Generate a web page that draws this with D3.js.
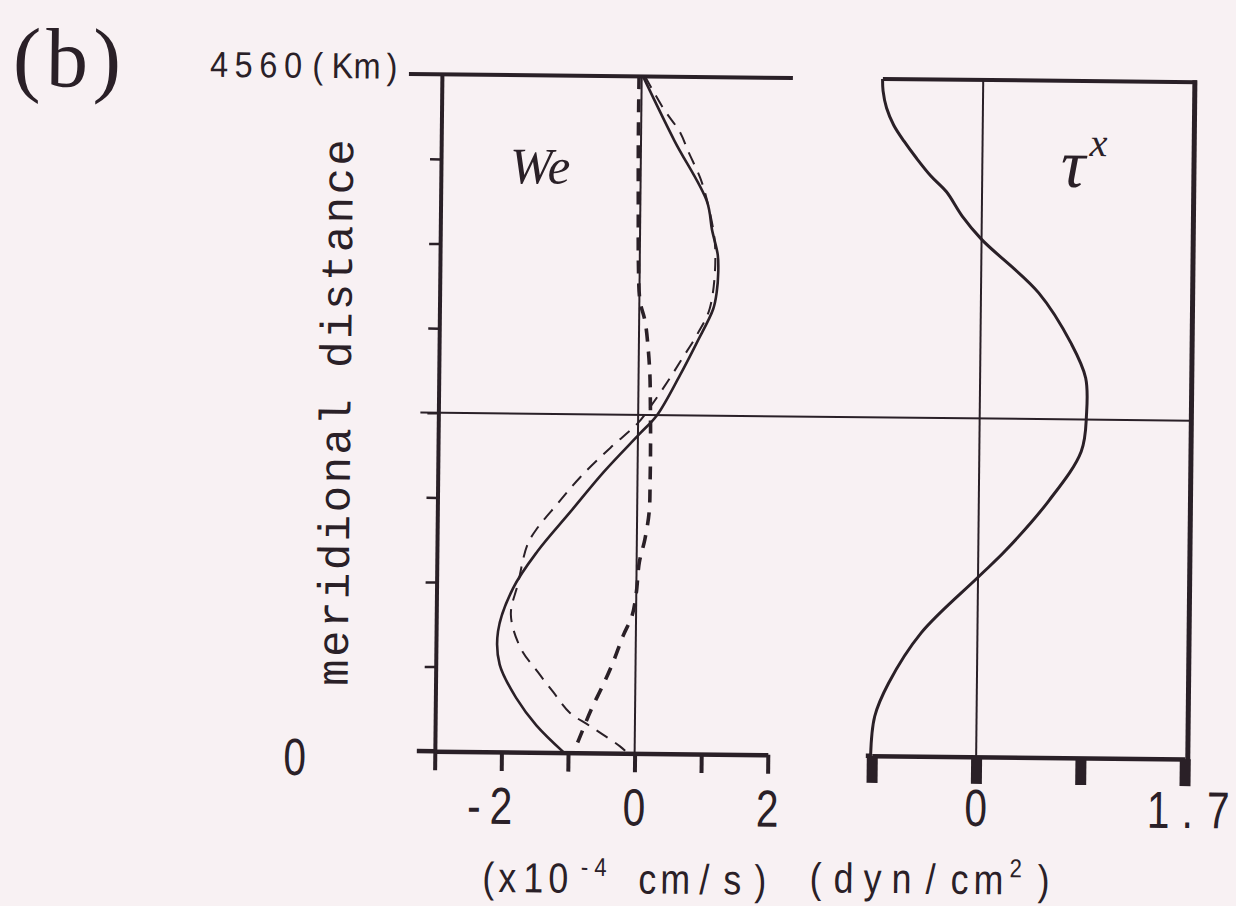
<!DOCTYPE html>
<html>
<head>
<meta charset="utf-8">
<script src="https://cdn.jsdelivr.net/npm/d3@7"></script>
<style>
  html, body { margin: 0; padding: 0; background: #f8f1f3; }
  svg { display: block; }
</style>
</head>
<body>
<svg id="chart" width="1236" height="906"></svg>
<script>
// Meridional profiles over a 4560 km basin.
// Ekman pumping velocity We (x10^-4 cm/s), three cases:
const weSolidKm  = [4560, 4130, 3721, 3531, 3363, 3250, 3112, 2998, 2771, 2549, 2277, 2150, 1892, 1623, 1354, 1104, 812, 588, 360, 182, 0];
const weSolid    = [0.02, 0.50, 1.00, 1.08, 1.17, 1.18, 1.16, 1.11, 0.87, 0.62, 0.28, 0.02, -0.51, -1.00, -1.49, -1.85, -2.07, -2.04, -1.78, -1.48, -1.06];

const weThinKm   = [4560, 4346, 4182, 4058, 3885, 3730, 3411, 3005, 2823, 2668, 2508, 2334, 2226, 2057, 1856, 1674, 1514, 1400, 1131, 926, 702, 543, 406, 269, 182, 46, 0];
const weThin     = [0.05, 0.33, 0.59, 0.71, 0.89, 1.00, 1.13, 1.06, 0.87, 0.66, 0.44, 0.18, 0.00, -0.41, -0.86, -1.20, -1.49, -1.64, -1.78, -1.88, -1.73, -1.47, -1.23, -0.98, -0.68, -0.22, -0.10];

const weThickKm  = [4560, 4104, 3648, 3300, 3046, 2909, 2727, 2549, 2389, 2118, 1847, 1624, 1441, 1286, 1082, 927, 792, 609, 453, 291, 88, 0];
const weThick    = [-0.04, -0.04, -0.03, -0.02, 0.01, 0.09, 0.14, 0.17, 0.18, 0.19, 0.19, 0.18, 0.12, 0.04, 0.00, -0.06, -0.19, -0.34, -0.49, -0.66, -0.84, -0.92];

// Zonal wind stress tau^x (dyn/cm^2)
const tauKm      = [4560, 4479, 4364, 4249, 4142, 4026, 3911, 3804, 3642, 3486, 3130, 2790, 2560, 2315, 2065, 1730, 1390, 1210, 830, 490, 265, 0];
const tau        = [-0.82, -0.815, -0.785, -0.725, -0.64, -0.535, -0.42, -0.29, -0.16, 0.00, 0.47, 0.74, 0.86, 0.87, 0.83, 0.57, 0.22, 0.00, -0.46, -0.72, -0.83, -0.86];

// Axis ticks and labels
const distanceTicks = [0, 570, 1140, 1710, 2280, 2850, 3420, 3990, 4560];
const weTicks       = [-3, -2, -1, 0, 1, 2];
const weLabels      = [-2, 0, 2];
const tauTicks      = [-0.85, 0, 0.85, 1.7];
const tauLabels     = [0, 1.7];

const INK = "#2a2027";
const MONO = "'Liberation Mono', 'DejaVu Sans Mono', monospace";
const SANS = "'Liberation Sans', Arial, sans-serif";
const SERIF = "'Liberation Serif', 'DejaVu Serif', serif";

const svg = d3.select("#chart");
svg.append("rect").attr("width", 1236).attr("height", 906).attr("fill", "#f8f1f3");

// whole figure sits very slightly turned, as printed
const fig = svg.append("g").attr("transform", "rotate(0.6, 700, 450)");

const y  = d3.scaleLinear().domain([0, 4560]).range([754, 77]);
const xL = d3.scaleLinear().domain([-3, 2]).range([438, 771]);
const xR = d3.scaleLinear().domain([-0.85, 1.7]).range([875, 1188]);

const toPts = (km, v) => km.map((k, i) => ({ km: k, v: v[i] }));
const lineL = d3.line().x(d => xL(d.v)).y(d => y(d.km)).curve(d3.curveCatmullRom.alpha(0.5));
const lineR = d3.line().x(d => xR(d.v)).y(d => y(d.km)).curve(d3.curveCatmullRom.alpha(0.5));

function hline(g, x1, x2, yy, w) {
  g.append("line").attr("x1", x1).attr("x2", x2).attr("y1", yy).attr("y2", yy)
    .attr("stroke", INK).attr("stroke-width", w);
}
function vline(g, xx, y1, y2, w) {
  g.append("line").attr("x1", xx).attr("x2", xx).attr("y1", y1).attr("y2", y2)
    .attr("stroke", INK).attr("stroke-width", w);
}

// Plotter lettering: every character is set on its own at a fixed pitch,
// with narrow glyphs. items: [char, dx from anchor, size?, dy?]
function lettering(g, x0, y0, items, opt) {
  const sx = opt.sx || 0.8;
  items.forEach(([c, dx, size, dy]) => {
    g.append("text")
      .attr("transform", `translate(${x0 + dx},${y0 + (dy || 0)}) scale(${sx},1)`)
      .attr("text-anchor", "middle")
      .attr("font-family", SANS).attr("font-size", size || opt.size)
      .attr("fill", INK).text(c);
  });
}
const NUM = { size: 52, sx: 0.78 };

// ---------- left panel: We ----------
const left = fig.append("g");

// mid-basin line across both panels
hline(left, 420, xR(1.7) + 3, y(2280), 2);
// zero line
vline(left, xL(0), y(4560), y(0), 2);

// left distance axis with short ticks
const yAxis = left.append("g").attr("transform", `translate(${xL(-3)},0)`)
  .call(d3.axisLeft(y).tickValues(distanceTicks).tickSize(11).tickSizeOuter(0).tickFormat(""));
yAxis.select(".domain").attr("stroke", INK).attr("stroke-width", 4);
yAxis.selectAll(".tick line").attr("stroke", INK).attr("stroke-width", 2.5);

// top edge (runs out to the 4560 label) and bottom axis
hline(left, 405, xL(2) + 18, y(4560), 4);

const xAxisL = left.append("g").attr("transform", `translate(0,${y(0)})`)
  .call(d3.axisBottom(xL).tickValues(weTicks).tickSize(19).tickSizeOuter(0).tickFormat(""));
xAxisL.select(".domain").attr("stroke", INK).attr("stroke-width", 4.5);
hline(xAxisL, 420, xL(-3), 0, 4.5);
xAxisL.selectAll(".tick line").attr("stroke", INK).attr("stroke-width", 4);

// tick labels: the digit is centred on its tick, a minus sign hangs to the left
weLabels.forEach(v => {
  const items = [[String(Math.abs(v)), 0]];
  if (v < 0) items.unshift(["-", -27]);
  lettering(left, xL(v), y(0) + 72, items, NUM);
});

// We curves
left.append("path").datum(toPts(weSolidKm, weSolid)).attr("d", lineL)
  .attr("fill", "none").attr("stroke", INK).attr("stroke-width", 2.6);
left.append("path").datum(toPts(weThinKm, weThin)).attr("d", lineL)
  .attr("fill", "none").attr("stroke", INK).attr("stroke-width", 2)
  .attr("stroke-dasharray", "13 9");
left.append("path").datum(toPts(weThickKm, weThick)).attr("d", lineL)
  .attr("fill", "none").attr("stroke", INK).attr("stroke-width", 3.6)
  .attr("stroke-dasharray", "13 10");

left.append("text").attr("x", 507).attr("y", 185)
  .attr("font-family", SERIF).attr("font-style", "italic").attr("font-size", 51)
  .attr("fill", INK).text("We");

// ---------- right panel: tau^x ----------
const right = fig.append("g");
vline(right, xR(0), y(4560), y(0), 2);
hline(right, xR(-0.85) + 4, xR(1.7) + 5, y(4560), 4);
vline(right, xR(1.7) + 3, y(4560) - 2, y(0) + 2, 5);

const xAxisR = right.append("g").attr("transform", `translate(0,${y(0)})`)
  .call(d3.axisBottom(xR).tickValues(tauTicks).tickSize(27).tickSizeOuter(0).tickFormat(""));
xAxisR.select(".domain").attr("stroke", INK).attr("stroke-width", 4.5);
hline(xAxisR, xR(-0.85) - 6, xR(-0.85), 0, 4.5);
xAxisR.selectAll(".tick line").attr("stroke", INK).attr("stroke-width", 11);

tauLabels.forEach(v => {
  const items = v === 1.7 ? [["1", -26], [".", 3], ["7", 34]] : [[String(v), 0]];
  lettering(right, xR(v), y(0) + 69, items, NUM);
});

right.append("path").datum(toPts(tauKm, tau)).attr("d", lineR)
  .attr("fill", "none").attr("stroke", INK).attr("stroke-width", 3);

const tauLabel = right.append("text").attr("x", 1058).attr("y", 183)
  .attr("font-family", SERIF).attr("font-style", "italic").attr("fill", INK);
tauLabel.append("tspan").attr("font-size", 68).text("τ");
tauLabel.append("tspan").attr("font-size", 40).attr("dy", -31).attr("dx", 4).text("x");

// ---------- labels ----------
fig.append("text").attr("x", 9).attr("y", 93)
  .attr("font-family", SERIF).attr("font-size", 84).attr("letter-spacing", 5)
  .attr("fill", INK).text("(b)");

// top and bottom ends of the distance axis
lettering(fig, 215, 82,
  "4560(Km)".split("").map((c, i) => [c, i * 24.7]),
  { size: 36, sx: 0.9 });
lettering(fig, 298, 779, [["0", 0]], NUM);

fig.append("text")
  .attr("transform", `translate(350, 415) rotate(-90)`)
  .attr("text-anchor", "middle")
  .attr("font-family", MONO).attr("font-size", 44).attr("letter-spacing", 2.5)
  .attr("fill", INK).text("meridional distance");

// unit captions under each panel
const CAP = { size: 42, sx: 0.85 };
lettering(fig, xL(0) - 2, 894, [
  ["(", -143], ["x", -124], ["1", -98], ["0", -73],
  ["-", -47, 26, -17], ["4", -31, 26, -17],
  ["c", 16], ["m", 44], ["/", 73], ["s", 101], [")", 129]
], CAP);

lettering(fig, 948, 891, [
  ["(", -128], ["d", -100], ["y", -71], ["n", -42], ["/", -13],
  ["c", 16], ["m", 45], ["2", 72, 26, -17], [")", 100]
], CAP);
</script>
</body>
</html>
